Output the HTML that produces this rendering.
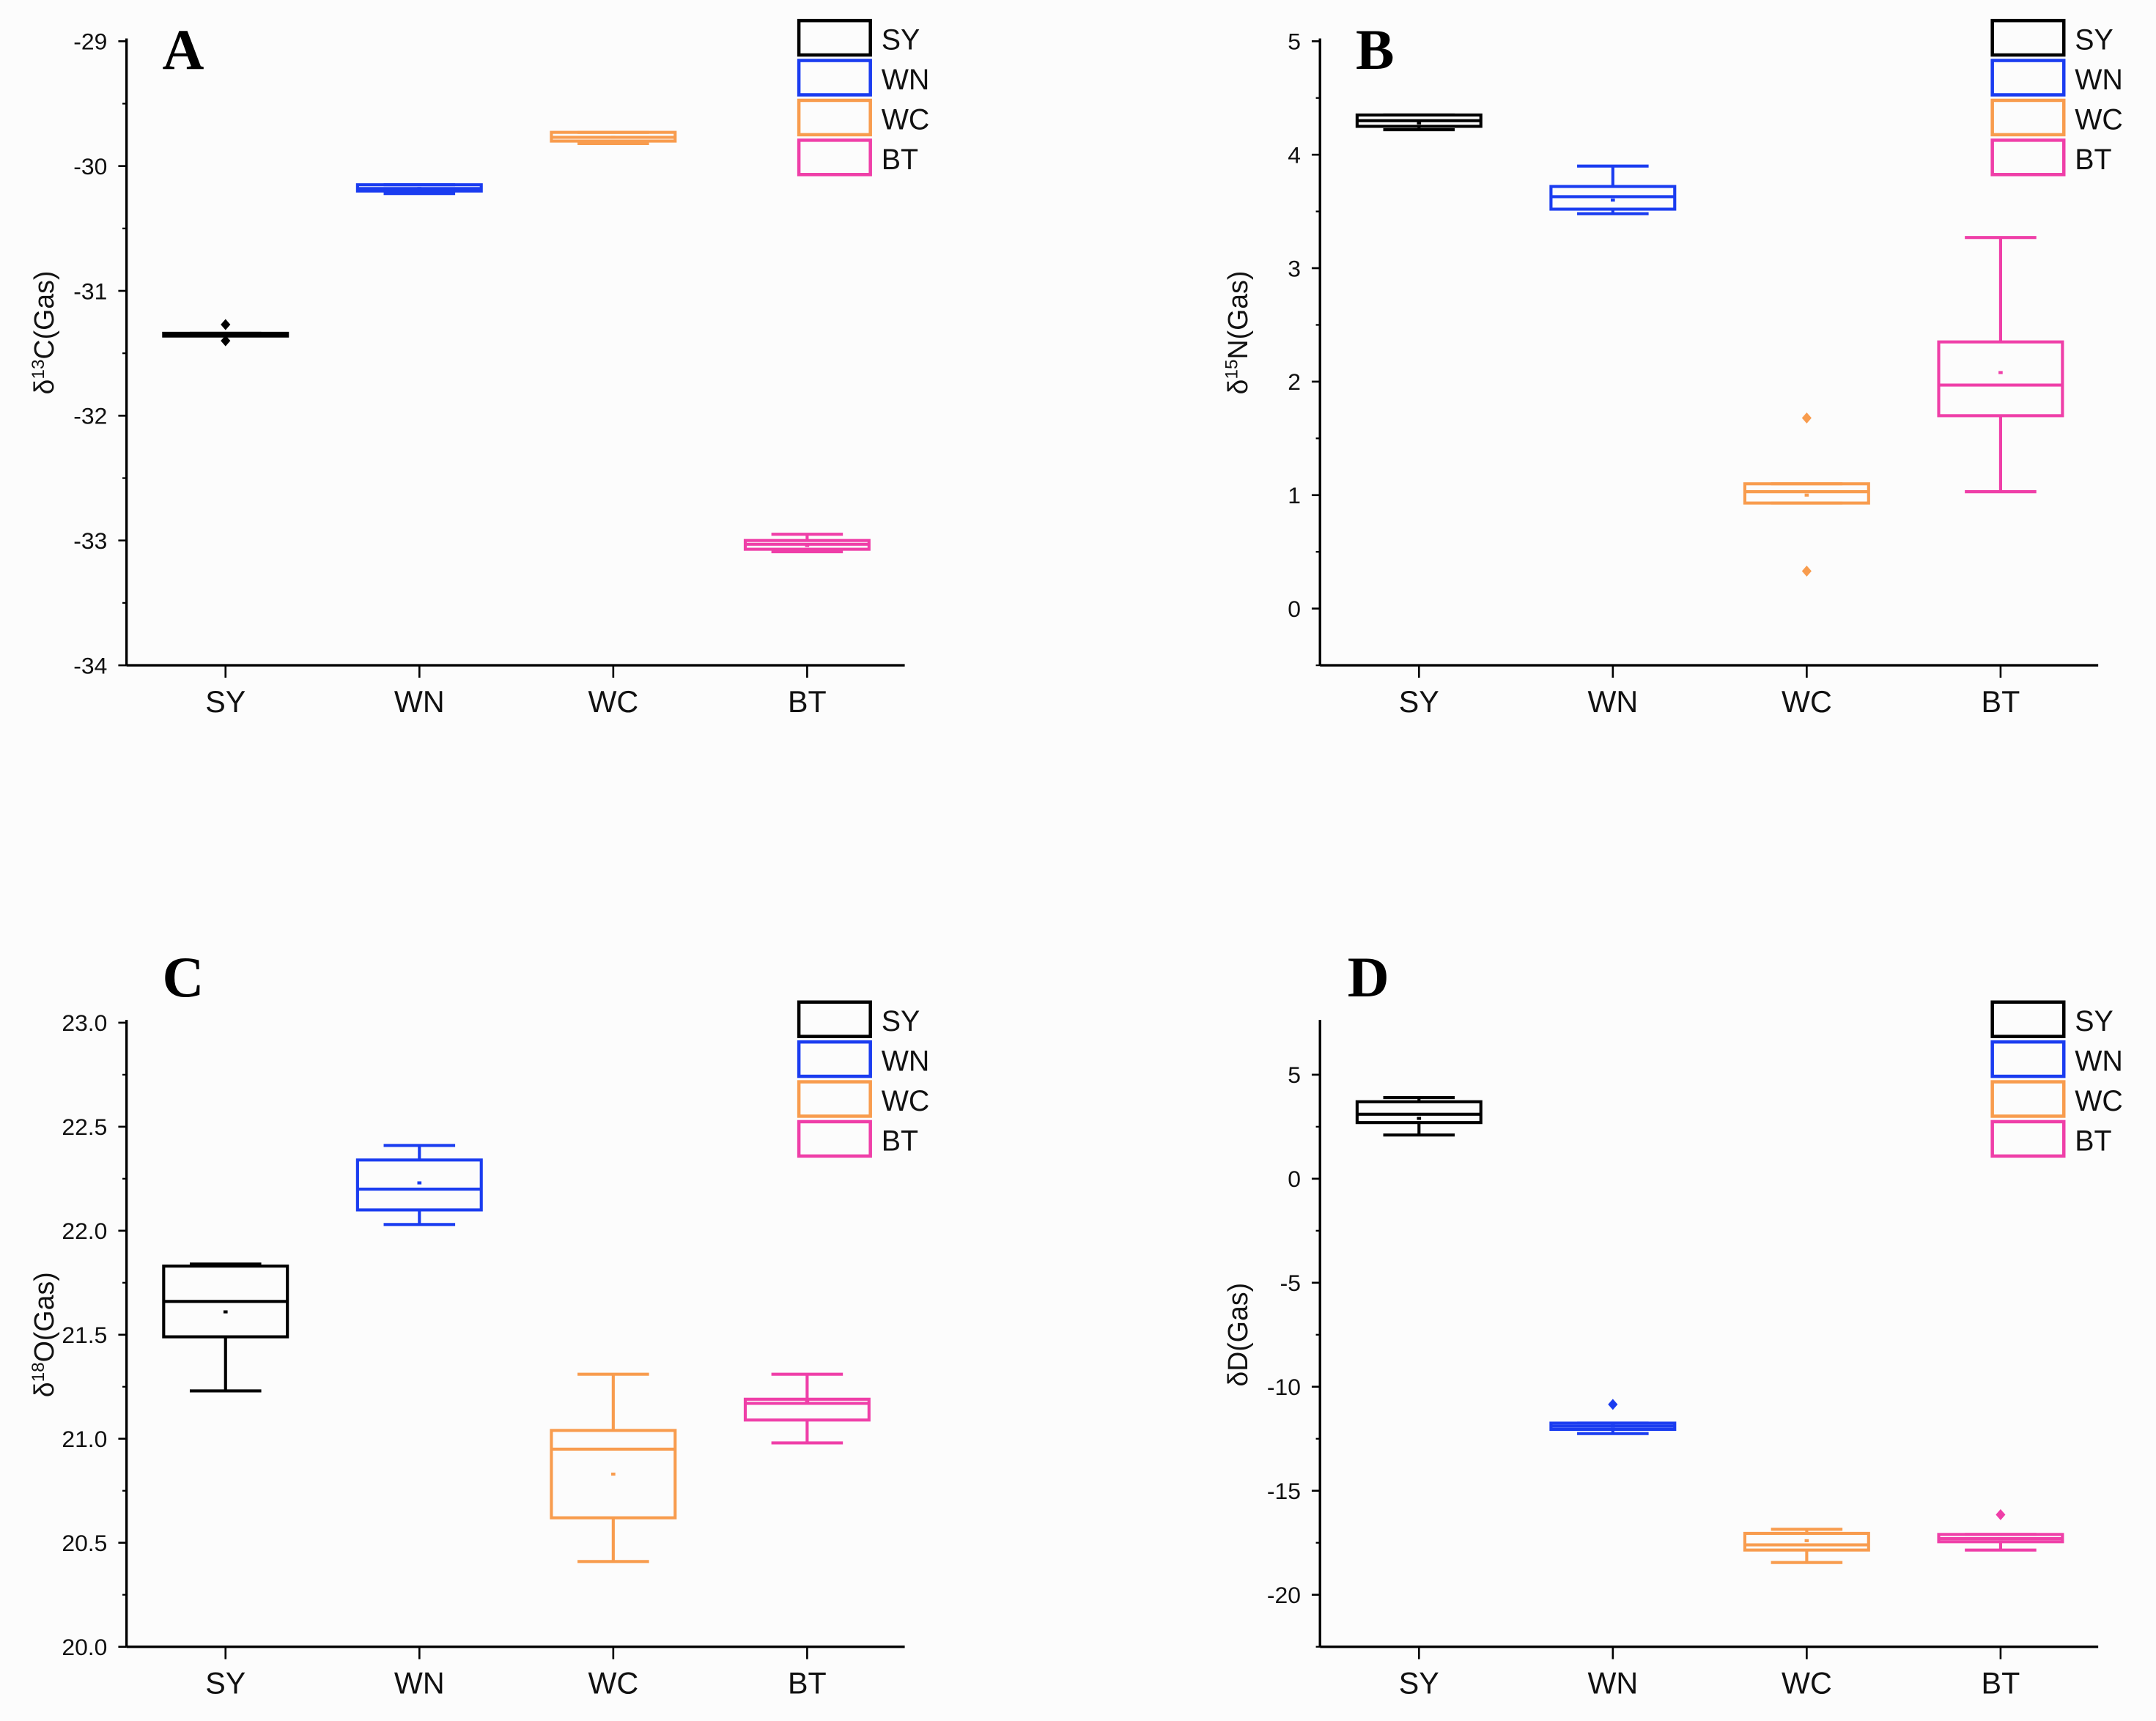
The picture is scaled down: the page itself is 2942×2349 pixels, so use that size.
<!DOCTYPE html>
<html><head><meta charset="utf-8"><style>
html,body{margin:0;padding:0;background:#fcfcfc;}
svg{display:block;}
text{font-family:"Liberation Sans",sans-serif;}
</style></head><body>
<svg id="fig" width="2942" height="2349" viewBox="0 0 1568 1252" xmlns="http://www.w3.org/2000/svg">
<rect x="0" y="0" width="1568" height="1252" fill="#fcfcfc"/>
</svg>
<script>
const categories = ["SY","WN","WC","BT"];
const colors = ["#000000","#1a3cf0","#f89c4e","#ef3fa8"];
// stats per panel: [min, q1, median, q3, max, mean]
const statsA = [[-31.36,-31.36,-31.35,-31.34,-31.34,-31.35],[-30.22,-30.2,-30.18,-30.15,-30.15,-30.18],[-29.82,-29.8,-29.77,-29.73,-29.73,-29.77],[-33.09,-33.07,-33.03,-33.0,-32.95,-33.04]];
const outliersA = [[-31.27,-31.4],[],[],[]];
const statsB = [[4.22,4.25,4.3,4.35,4.35,4.28],[3.48,3.52,3.63,3.72,3.9,3.6],[0.93,0.93,1.03,1.1,1.1,1.0],[1.03,1.7,1.97,2.35,3.27,2.08]];
const outliersB = [[],[],[1.68,0.33],[]];
const statsC = [[21.23,21.49,21.66,21.83,21.84,21.61],[22.03,22.1,22.2,22.34,22.41,22.23],[20.41,20.62,20.95,21.04,21.31,20.83],[20.98,21.09,21.17,21.19,21.31,21.18]];
const outliersC = [[],[],[],[]];
const statsD = [[2.1,2.7,3.1,3.7,3.9,2.9],[-12.25,-12.05,-11.9,-11.75,-11.75,-11.9],[-18.45,-17.85,-17.6,-17.05,-16.85,-17.4],[-17.85,-17.45,-17.3,-17.1,-17.1,-17.3]];
const outliersD = [[],[-10.85],[],[-16.15]];
const ticksA = [-29,-30,-31,-32,-33,-34];
const ticksB = [5,4,3,2,1,0];
const ticksC = ["23.0","22.5","22.0","21.5","21.0","20.5","20.0"];
const ticksD = [5,0,-5,-10,-15,-20];

const NS="http://www.w3.org/2000/svg";
const svg=document.getElementById('fig');
function mk(tag,attrs,parent){const e=document.createElementNS(NS,tag);for(const k in attrs)e.setAttribute(k,attrs[k]);(parent||svg).appendChild(e);return e;}

function panel(cfg){
  const g=mk('g',{});
  
  
  const y=v=>cfg.y0+(cfg.vmax-v)/(cfg.vmax-cfg.vmin)*(cfg.y1-cfg.y0);
  const xc=i=>cfg.x0+72+i*141;
  const ax=mk('line',{x1:cfg.x0,y1:cfg.y0-2,x2:cfg.x0,y2:cfg.y1,stroke:'#000','stroke-width':1.8},g);
  
  const bx=mk('line',{x1:cfg.x0,y1:cfg.y1,x2:cfg.x0+566,y2:cfg.y1,stroke:'#000','stroke-width':1.8},g);
  
  cfg.ticks.forEach(t=>{
    const v=parseFloat(t),yy=y(v);
    mk('line',{x1:cfg.x0-6,y1:yy,x2:cfg.x0,y2:yy,stroke:'#000','stroke-width':1.4},g);
    const tx=mk('text',{x:cfg.x0-14,y:yy+6,'font-size':17,'text-anchor':'end',fill:'#111'},g);
    tx.textContent=t;
    
    const mv=v-cfg.step/2;
    if(mv>cfg.vmin-1e-9){const my=y(mv);mk('line',{x1:cfg.x0-3,y1:my,x2:cfg.x0,y2:my,stroke:'#000','stroke-width':1.2},g);}
  });
  categories.forEach((c,i)=>{
    mk('line',{x1:xc(i),y1:cfg.y1,x2:xc(i),y2:cfg.y1+9,stroke:'#000','stroke-width':1.4},g);
    const tx=mk('text',{x:xc(i),y:cfg.y1+34,'font-size':22,'text-anchor':'middle',fill:'#111'},g);
    tx.textContent=c;
    
  });
  cfg.stats.forEach((s,i)=>{
    const bg=mk('g',{stroke:colors[i],fill:'none','stroke-width':2.2},g);
    
    
    const cx=xc(i),hw=45,cw=26;
    const [mn,q1,md,q3,mx,mean]=s;
    mk('line',{x1:cx,y1:y(mx),x2:cx,y2:y(q3)},bg);
    mk('line',{x1:cx,y1:y(mn),x2:cx,y2:y(q1)},bg);
    mk('line',{x1:cx-cw,y1:y(mx),x2:cx+cw,y2:y(mx)},bg);
    mk('line',{x1:cx-cw,y1:y(mn),x2:cx+cw,y2:y(mn)},bg);
    const ht=Math.max(y(q1)-y(q3),2);
    mk('rect',{x:cx-hw,y:y(q3),width:2*hw,height:ht},bg);
    mk('line',{x1:cx-hw,y1:y(md),x2:cx+hw,y2:y(md)},bg);
    mk('line',{x1:cx-1.5,y1:y(mean),x2:cx+1.5,y2:y(mean)},bg);
    cfg.outliers[i].forEach(o=>{
      const p=mk('path',{d:`M${cx},${y(o)-4}L${cx+3.5},${y(o)}L${cx},${y(o)+4}L${cx-3.5},${y(o)}Z`,fill:colors[i],stroke:'none'},bg);
      
    });
  });
  const L=mk('text',{x:cfg.x0+26+(cfg.lx||0),y:cfg.ly,'font-size':42,'font-weight':'bold',fill:'#000'},g);
  L.textContent=cfg.letter;L.style.fontFamily='"Liberation Serif",serif';
  
  const yt=mk('text',{x:0,y:0,'font-size':20,'text-anchor':'middle',fill:'#111',transform:`translate(${cfg.x0-53},${(cfg.y0+cfg.y1)/2+(cfg.tyoff||0)}) rotate(-90)`},g);
  yt.innerHTML=cfg.title;
  
  const lg=mk('g',{},g);
  
  categories.forEach((c,i)=>{
    const yy=cfg.legy+i*29;
    mk('rect',{x:cfg.x0+489,y:yy,width:52,height:25,fill:'none',stroke:colors[i],'stroke-width':2.4},lg);
    const t=mk('text',{x:cfg.x0+549,y:yy+21,'font-size':21,fill:'#111'},lg);
    t.textContent=c;
    
  });
}

panel({letter:'A',x0:92,y0:30,y1:484,vmax:-29,vmin:-34,step:1,ticks:ticksA,stats:statsA,outliers:outliersA,ly:50,legy:15,title:'δ<tspan font-size="13" dy="-7">13</tspan><tspan dy="7">C(Gas)</tspan>',tyoff:-15});
panel({letter:'B',x0:960,y0:30,y1:484,vmax:5,vmin:-0.5,step:1,ticks:ticksB,stats:statsB,outliers:outliersB,ly:50,legy:15,title:'δ<tspan font-size="13" dy="-7">15</tspan><tspan dy="7">N(Gas)</tspan>',tyoff:-15});
panel({letter:'C',x0:92,y0:744,y1:1198,vmax:23,vmin:20,step:0.5,ticks:ticksC,stats:statsC,outliers:outliersC,ly:725,legy:729,title:'δ<tspan font-size="13" dy="-7">18</tspan><tspan dy="7">O(Gas)</tspan>',tyoff:0});
panel({letter:'D',x0:960,y0:744,y1:1198,vmax:7.5,vmin:-22.5,step:5,ticks:ticksD,stats:statsD,outliers:outliersD,ly:725,legy:729,lx:-6,title:'δD(Gas)',tyoff:0});
</script>
</body></html>
